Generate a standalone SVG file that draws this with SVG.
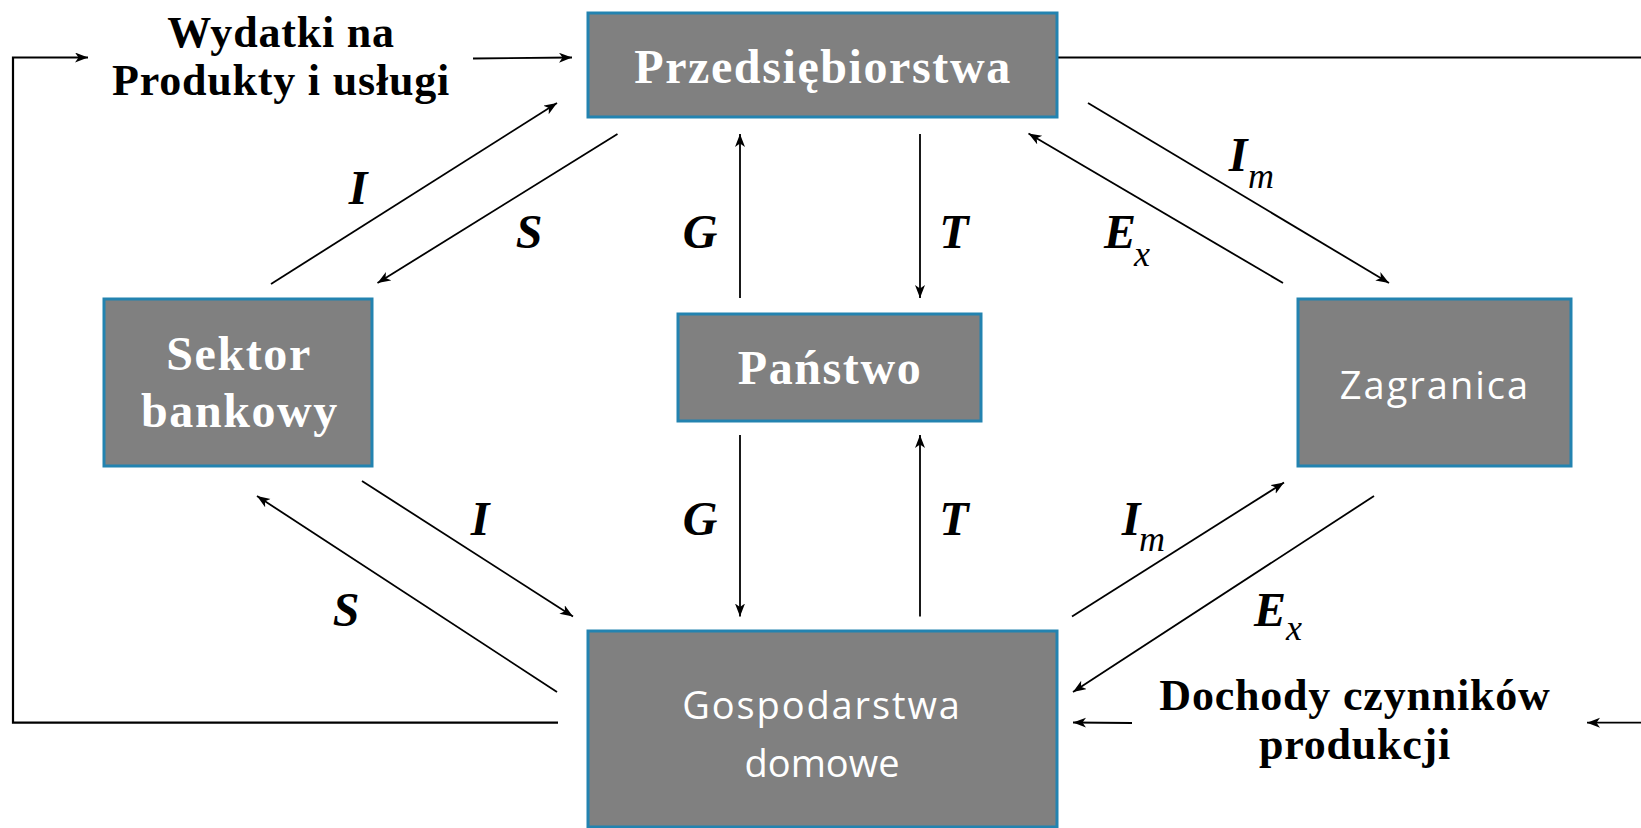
<svg xmlns="http://www.w3.org/2000/svg" width="1641" height="828" viewBox="0 0 1641 828">
<style>
.box{fill:#808080;stroke:#2383b0;stroke-width:3}
.bt{font-family:"Liberation Serif","Times New Roman",serif;font-weight:bold;font-size:48px;fill:#fff;text-anchor:middle;letter-spacing:1.6px}
.st{font-family:"Open Sans","Liberation Sans",sans-serif;font-size:38px;fill:#fff;text-anchor:middle}
.ot{font-family:"Liberation Serif","Times New Roman",serif;font-weight:bold;font-size:44px;fill:#000;text-anchor:middle;letter-spacing:0.8px}
.lb{font-family:"Liberation Serif","Times New Roman",serif;font-weight:bold;font-style:italic;font-size:48px;fill:#000;text-anchor:middle}
.sb{font-family:"Liberation Serif","Times New Roman",serif;font-style:italic;font-size:36px;fill:#000;text-anchor:middle}
.ln{fill:none;stroke:#000;stroke-width:1.8}
.lp{fill:none;stroke:#000;stroke-width:2.2}
</style>
<defs>
<marker id="ah" markerUnits="userSpaceOnUse" markerWidth="14" markerHeight="12" refX="13" refY="5" orient="auto">
<path d="M0,0 L13,5 L0,10 L3.5,5 z" fill="#000"/>
</marker>
</defs>

<g id="connectors">
<polyline class="lp" points="558,722.7 13,722.7 13,57.5 88,57.5" marker-end="url(#ah)"/>
<line class="ln" x1="473" y1="58.5" x2="572" y2="57.5" marker-end="url(#ah)"/>
<line class="lp" x1="1057" y1="57.5" x2="1641" y2="57.5"/>
<line class="ln" x1="1641" y1="722.7" x2="1587" y2="722.7" marker-end="url(#ah)"/>
<line class="ln" x1="1132" y1="723" x2="1073" y2="722.5" marker-end="url(#ah)"/>

<line class="ln" x1="271" y1="284" x2="557" y2="103" marker-end="url(#ah)"/>
<line class="ln" x1="617.5" y1="134" x2="377.5" y2="283" marker-end="url(#ah)"/>
<line class="ln" x1="740" y1="298" x2="740" y2="134" marker-end="url(#ah)"/>
<line class="ln" x1="920" y1="134" x2="920" y2="298" marker-end="url(#ah)"/>
<line class="ln" x1="1283" y1="283" x2="1028.5" y2="133.5" marker-end="url(#ah)"/>
<line class="ln" x1="1088" y1="103" x2="1389" y2="283" marker-end="url(#ah)"/>

<line class="ln" x1="362" y1="481" x2="573" y2="616.5" marker-end="url(#ah)"/>
<line class="ln" x1="557" y1="692" x2="257" y2="496" marker-end="url(#ah)"/>
<line class="ln" x1="740" y1="435" x2="740" y2="616.5" marker-end="url(#ah)"/>
<line class="ln" x1="920" y1="616.5" x2="920" y2="435" marker-end="url(#ah)"/>
<line class="ln" x1="1072" y1="616.5" x2="1284" y2="482.5" marker-end="url(#ah)"/>
<line class="ln" x1="1374" y1="496" x2="1073" y2="692" marker-end="url(#ah)"/>
</g>

<g id="labels">
<text class="ot" x="281" y="47">Wydatki na</text>
<text class="ot" x="281" y="95">Produkty i usługi</text>
<text class="ot" x="1355" y="710">Dochody czynników</text>
<text class="ot" x="1355" y="759">produkcji</text>

<text class="lb" x="358" y="204">I</text>
<text class="lb" x="529" y="248">S</text>
<text class="lb" x="700" y="248">G</text>
<text class="lb" x="954" y="248">T</text>
<text class="lb" x="1120" y="248">E</text><text class="sb" x="1142" y="266">x</text>
<text class="lb" x="1238" y="171">I</text><text class="sb" x="1261" y="188">m</text>

<text class="lb" x="480" y="535">I</text>
<text class="lb" x="346" y="626">S</text>
<text class="lb" x="700" y="535">G</text>
<text class="lb" x="954" y="535">T</text>
<text class="lb" x="1131" y="535">I</text><text class="sb" x="1152" y="551">m</text>
<text class="lb" x="1270" y="626">E</text><text class="sb" x="1294" y="640">x</text>
</g>

<g id="przedsiebiorstwa">
<rect class="box" x="588" y="13" width="469" height="104"/>
<text class="bt" x="823" y="83">Przedsiębiorstwa</text>
</g>
<g id="sektor-bankowy">
<rect class="box" x="104" y="299" width="268" height="167"/>
<text class="bt" x="239" y="370">Sektor</text>
<text class="bt" x="240" y="427">bankowy</text>
</g>
<g id="panstwo">
<rect class="box" x="678" y="314" width="303" height="107"/>
<text class="bt" x="830" y="384">Państwo</text>
</g>
<g id="zagranica">
<rect class="box" x="1298" y="299" width="273" height="167"/>
<text class="st" x="1435" y="399" letter-spacing="2">Zagranica</text>
</g>
<g id="gospodarstwa-domowe">
<rect class="box" x="588" y="631" width="469" height="196"/>
<text class="st" x="822" y="719" letter-spacing="1.9">Gospodarstwa</text>
<text class="st" x="822" y="777">domowe</text>
</g>
</svg>
